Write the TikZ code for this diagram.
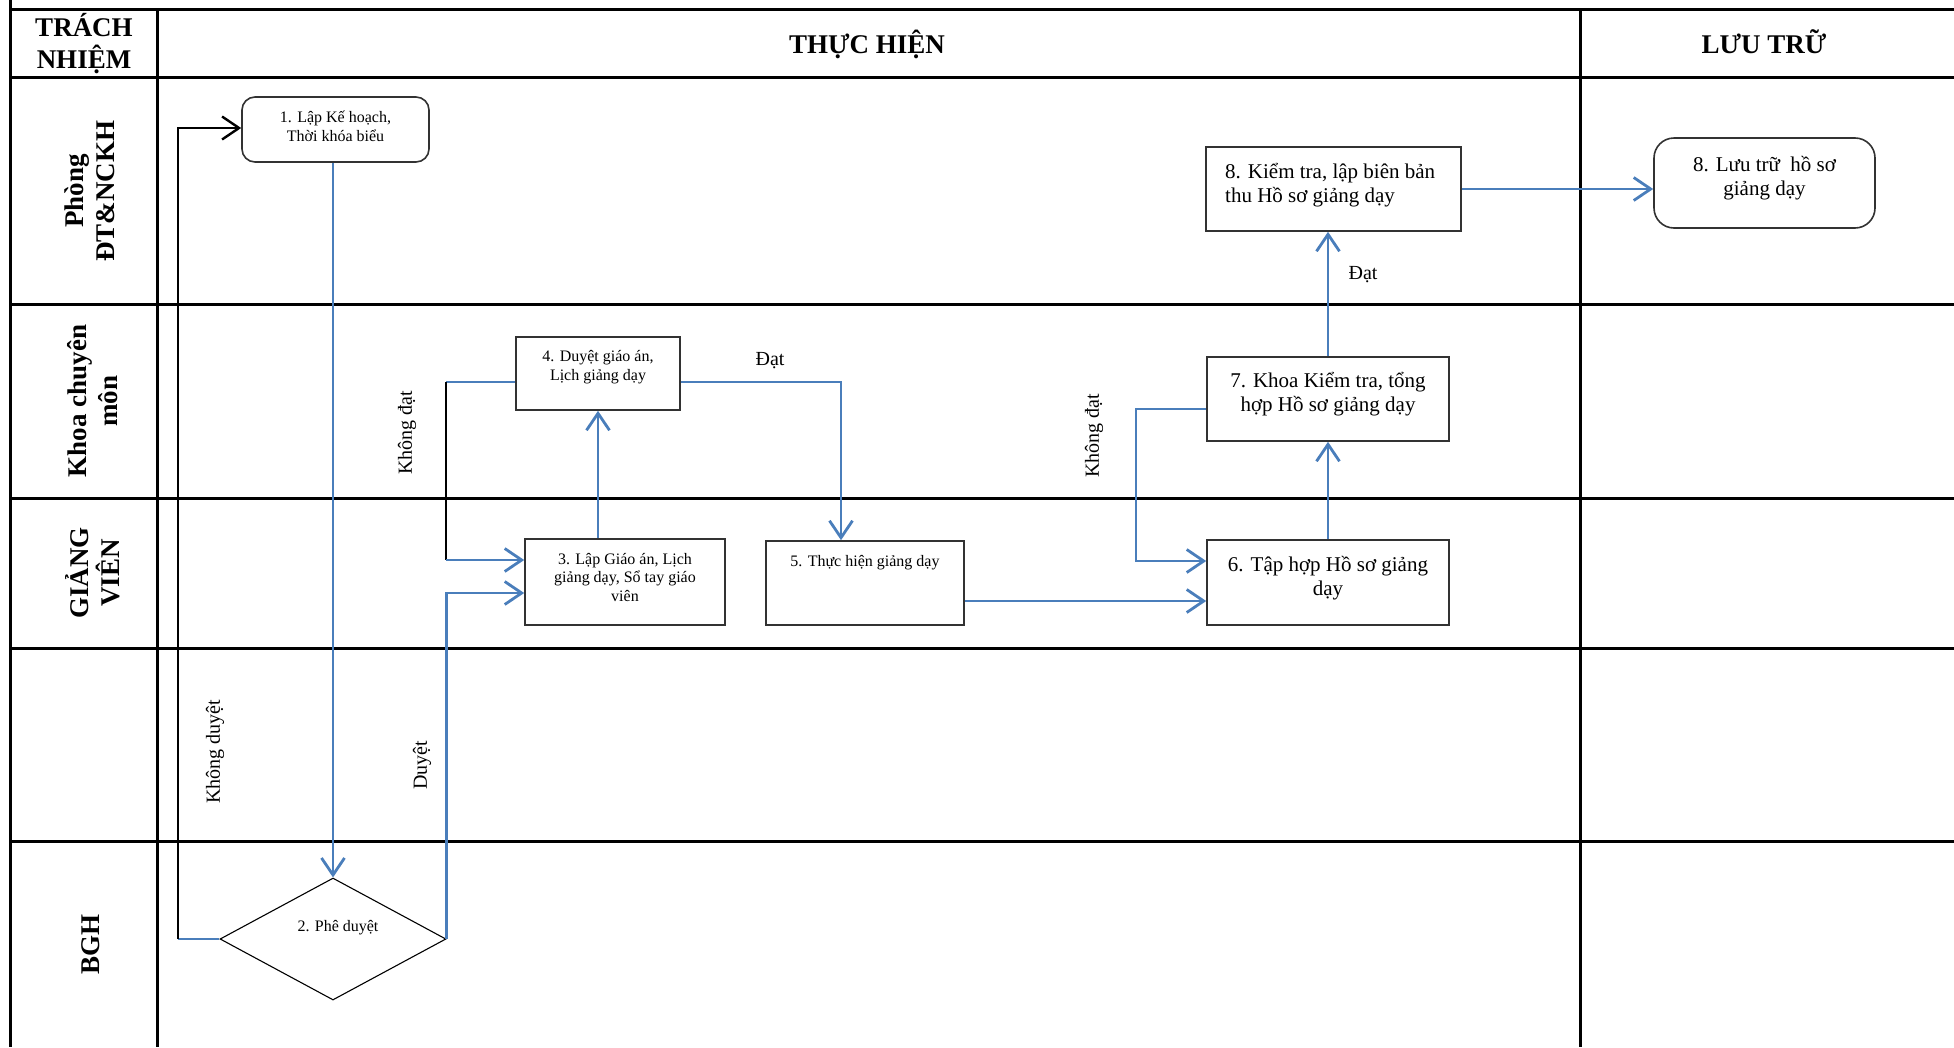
\documentclass[tikz,border=0pt]{standalone}
\usepackage{fontspec}
\setmainfont{Liberation Serif}
\usetikzlibrary{arrows.meta,shapes.geometric}
\definecolor{flowblue}{RGB}{74,126,187}
\definecolor{boxgray}{RGB}{50,50,50}
\newcommand{\tstrut}{\rule{0pt}{1em}}
\begin{document}
\begin{tikzpicture}[x=1pt,y=-1pt,
  grid/.style={line width=3pt,black},
  box/.style={draw=boxgray,line width=1.6pt,rectangle,inner sep=0pt},
  rbox/.style={box,rounded corners=13pt},
  flowline/.style={draw=flowblue,line width=2.8pt},
  flow/.style={flowline,-{Straight Barb[length=17pt,width=23pt]}},
  blkline/.style={draw=black,line width=2.4pt},
  blkflow/.style={blkline,-{Straight Barb[length=17pt,width=23pt]}},
  head/.style={font=\fontsize{27}{32}\selectfont\bfseries,align=center,inner sep=0pt},
  lane/.style={head,rotate=90,font=\fontsize{27}{31}\selectfont\bfseries},
  small/.style={font=\fontsize{16}{19}\selectfont,align=center,inner sep=0pt,anchor=north},
  big/.style={font=\fontsize{21}{24}\selectfont,align=center,inner sep=0pt,anchor=north},
  lbl/.style={font=\fontsize{20}{24}\selectfont,inner sep=0pt}
]
\useasboundingbox (0,0) rectangle (1954,1047);
% grid
\draw[grid] (10,0) -- (10,1047);
\draw[grid] (157,9) -- (157,1047);
\draw[grid] (1580,9) -- (1580,1047);
\foreach \yy in {9,77,304,498,648,841}
  \draw[grid] (10,\yy) -- (1954,\yy);
% headers
\node[head,anchor=base] (h1) at (84,68) {TRÁCH\\NHIỆM};
\node[head,anchor=base] (h2) at (867,53) {THỰC HIỆN};
\node[head,anchor=base] (h3) at (1764,53) {LƯU TRỮ};
% lanes
\node[lane] (l1) at (90,191) {Phòng\\ĐT\&NCKH};
\node[lane] (l2) at (93,401) {Khoa chuyên\\môn};
\node[lane] (l3) at (93,573) {GIẢNG\\VIÊN};
\node[lane] (l4) at (91,944) {BGH};
% boxes
\node[rbox,minimum width=187pt,minimum height=65pt] (b1) at (335.5,129.5) {};
\node[draw=black,line width=1.1pt,diamond,inner sep=0pt,minimum width=226pt,minimum height=122pt] (d2) at (333,939) {};
\node[box,minimum width=200pt,minimum height=86pt] (b3) at (625,582) {};
\node[box,minimum width=164pt,minimum height=73pt] (b4) at (598,373.5) {};
\node[box,minimum width=198pt,minimum height=84pt] (b5) at (865,583) {};
\node[box,minimum width=242pt,minimum height=85pt] (b6) at (1328,582.5) {};
\node[box,minimum width=242pt,minimum height=84pt] (b7) at (1328,399) {};
\node[box,minimum width=255pt,minimum height=84pt] (b8) at (1333.5,189) {};
\node[rbox,rounded corners=20pt,minimum width=221pt,minimum height=90pt] (b9) at (1764.5,183) {};
% box texts
\node[small] (t1) at ([yshift=-10pt]b1.north) {\tstrut 1. Lập Kế hoạch,\\Thời khóa biểu};
\node[small] (t2) at (338,915) {\tstrut 2. Phê duyệt};
\node[small,font=\fontsize{16}{18.5}\selectfont] (t3) at ([yshift=-10pt]b3.north) {\tstrut 3. Lập Giáo án, Lịch\\giảng dạy, Sổ tay giáo\\viên};
\node[small] (t4) at ([yshift=-9pt]b4.north) {\tstrut 4. Duyệt giáo án,\\Lịch giảng dạy};
\node[small] (t5) at ([yshift=-10pt]b5.north) {\tstrut 5. Thực hiện giảng dạy};
\node[big] (t6) at ([yshift=-11pt]b6.north) {\tstrut 6. Tập hợp Hồ sơ giảng\\dạy};
\node[big] (t7) at ([yshift=-10pt]b7.north) {\tstrut 7. Khoa Kiểm tra, tổng\\hợp Hồ sơ giảng dạy};
\node[big,align=left,anchor=north west] (t8) at (1225,157) {\tstrut 8. Kiểm tra, lập biên bản\\thu Hồ sơ giảng dạy};
\node[big] (t9) at ([yshift=-13pt]b9.north) {\tstrut 8. Lưu trữ~ hồ sơ\\giảng dạy};
% bend points
\coordinate (kd) at (178,939);
\coordinate (kda) at (446,382);
\coordinate (kdb) at (446,560);
\coordinate (kdc) at (1136,409);
\coordinate (kdd) at (1136,561);
% connectors
\draw[flow] (d2.north |- b1.south) -- (d2.north);
\draw[flowline] (d2.west) -- (kd);
\draw[blkflow] (kd) |- (b1.west |- 0,128);
\draw[flow] (d2.east) |- (b3.west |- 0,593);
\draw[flow] (b3.north -| b4.south) -- (b4.south);
\draw[flowline] (b4.west |- kda) -- (kda);
\draw[blkline] (kda) -- (kdb);
\draw[flow] (kdb) -- (b3.west |- kdb);
\draw[flow] (b4.east |- 0,382) -| (841,0 |- b5.north);
\draw[flow] (b5.east |- 0,601) -- (b6.west |- 0,601);
\draw[flow] (b6.north) -- (b7.south);
\draw[flow] (b7.west |- kdc) -- (kdc) -- (kdd) -- (b6.west |- kdd);
\draw[flow] (b7.north |- b7.north) -- (b7.north |- b8.south);
\draw[flow] (b8.east) -- (b9.west |- b8.east);
% connector labels
\node[lbl,rotate=90] (n1) at (215,752) {Không duyệt};
\node[lbl,rotate=90] (n2) at (422,765) {Duyệt};
\node[lbl,rotate=90] (n3) at (407,433) {Không đạt};
\node[lbl] (n4) at (770,361) {Đạt};
\node[lbl,rotate=90] (n5) at (1094,436) {Không đạt};
\node[lbl] (n6) at (1363,275) {Đạt};
\end{tikzpicture}
\end{document}
